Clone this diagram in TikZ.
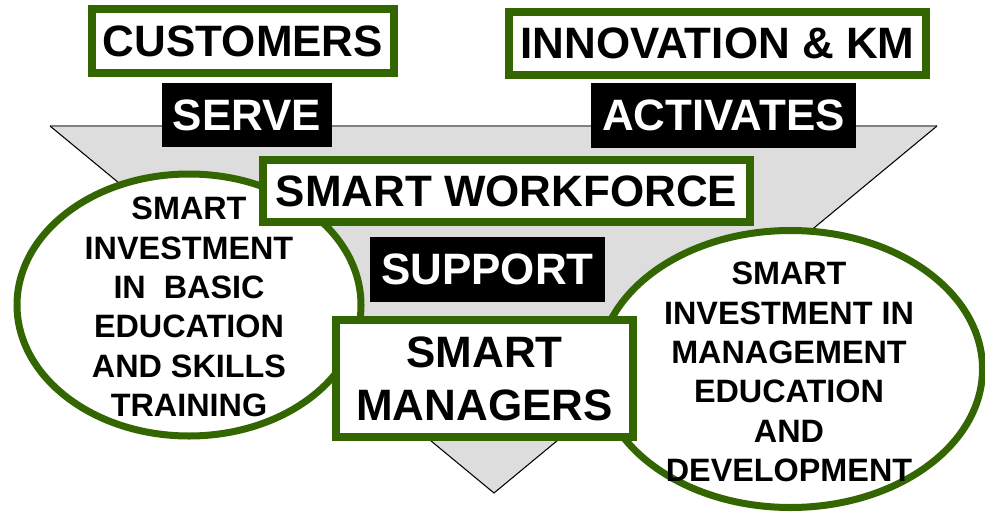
\documentclass[tikz,border=0pt]{standalone}
\usepackage{fontspec}
\setmainfont{Liberation Sans}
\usepackage{tikz}

\definecolor{leafgreen}{RGB}{51,102,0}
\definecolor{funnelgray}{RGB}{221,221,221}

\begin{document}
\begin{tikzpicture}[x=0.01cm, y=-0.01cm,
    greenbox/.style={draw=leafgreen, line width=0.08cm, fill=white, inner sep=0pt, align=center,
                     font=\fontsize{12.5}{15}\selectfont\bfseries},
    blackbox/.style={fill=black, text=white, inner sep=0pt,
                     font=\fontsize{12.5}{15}\selectfont\bfseries},
    ovalline/.style={draw=leafgreen, line width=0.07cm, fill=white},
    ovaltext/.style={align=center, inner sep=0pt, font=\fontsize{9.2}{11.2}\selectfont\bfseries}]
        \useasboundingbox (0,0) rectangle (985,512);
        % funnel
        \coordinate (funnelleft) at (50,126);
        \coordinate (funnelright) at (937,126);
        \coordinate (funneltip) at (494,493);
        \fill[funnelgray] (funnelleft) -- (funnelright) -- (funneltip) -- cycle;
        \draw[gray, line width=0.5pt] (funnelleft) -- (funnelright);
        \draw[line width=0.3pt] (funnelleft) -- (funneltip) -- (funnelright);
        % ovals
        \draw[ovalline] (189,305) ellipse [x radius=172, y radius=131];
        \draw[ovalline] (790.5,369) ellipse [x radius=192, y radius=138.5];
        \node[ovaltext] (basic) at (189,307) {SMART\\INVESTMENT\\IN\ \ BASIC\\EDUCATION\\AND SKILLS\\TRAINING};
        \node[ovaltext] (mgmt) at (789,372) {SMART\\INVESTMENT IN\\MANAGEMENT\\EDUCATION\\AND\\DEVELOPMENT};
        % boxes
        \node[greenbox, minimum width=3.02cm, minimum height=0.64cm] (customers) at (243,41) {CUSTOMERS};
        \node[greenbox, minimum width=4.17cm, minimum height=0.63cm] (innovation) at (717.5,43.5) {INNOVATION \& KM};
        \node[blackbox, minimum width=1.70cm, minimum height=0.64cm] (serve) at (247,115) {SERVE};
        \node[blackbox, minimum width=2.65cm, minimum height=0.65cm] (activates) at (723.5,115.5) {ACTIVATES};
        \node[greenbox, minimum width=4.87cm, minimum height=0.62cm] (workforce) at (506.5,191) {SMART WORKFORCE};
        \node[blackbox, minimum width=2.35cm, minimum height=0.65cm] (support) at (487.5,269.5) {SUPPORT};
        \node[greenbox, minimum width=2.97cm, minimum height=1.17cm] (managers) at (484.5,378.5) {SMART\\MANAGERS};
\end{tikzpicture}
\end{document}
